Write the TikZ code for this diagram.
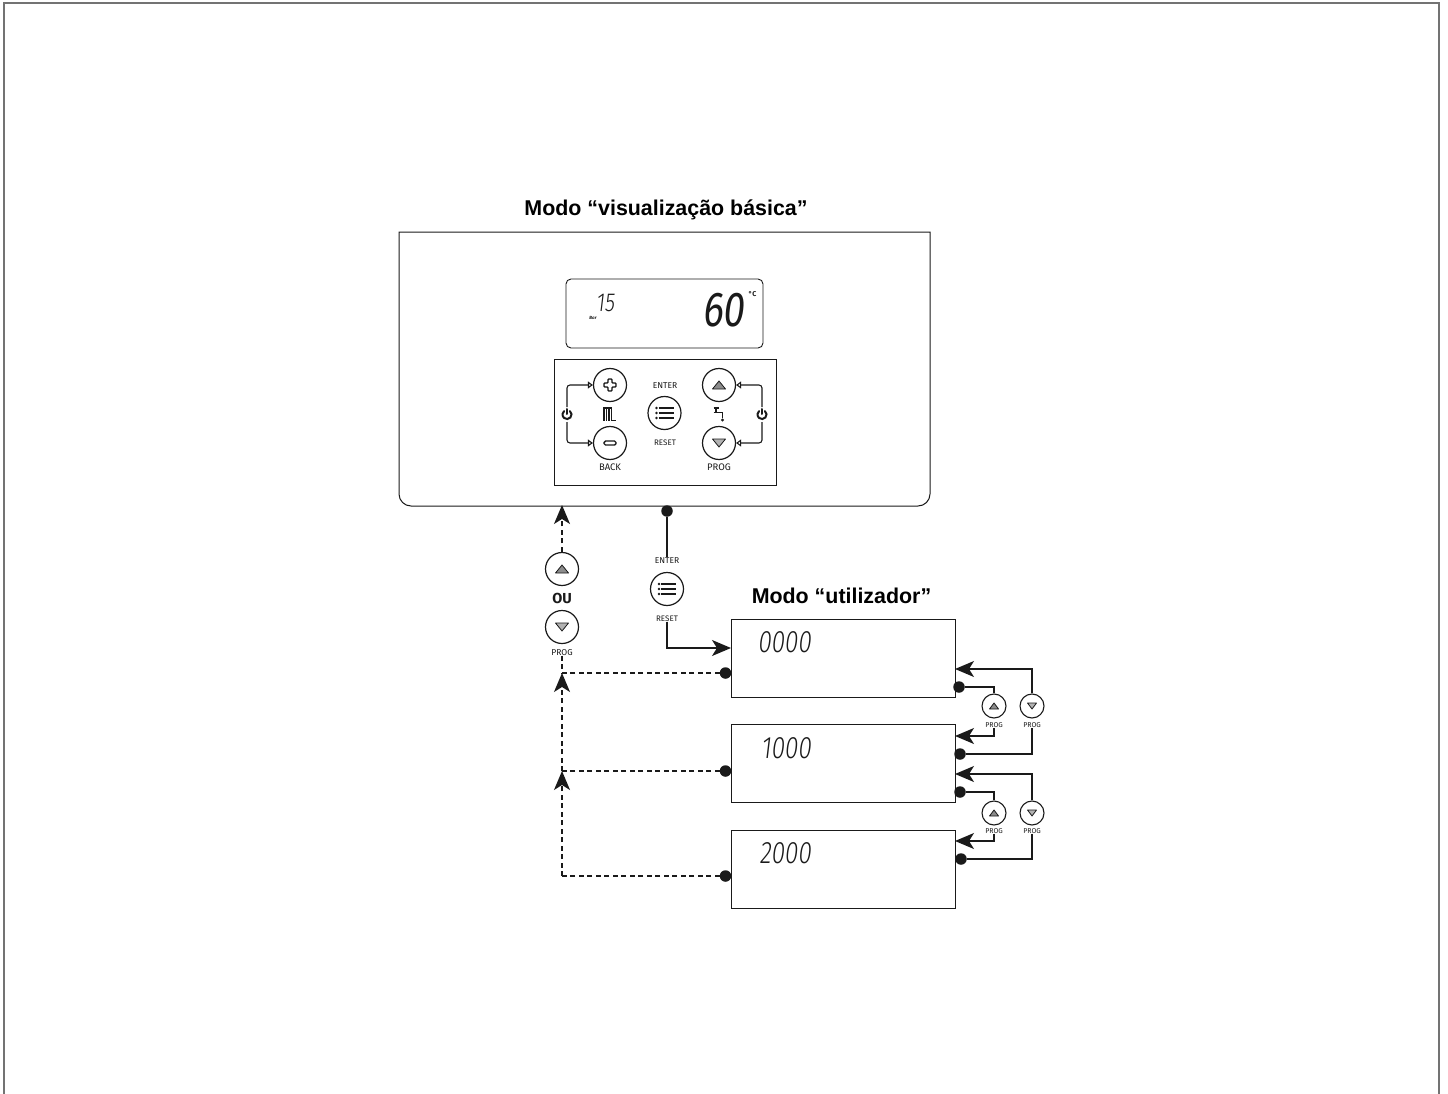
\documentclass[tikz,border=0pt]{standalone}
\usepackage{fontspec}
\usetikzlibrary{arrows.meta,calc}
\setmainfont{Liberation Sans}
\newfontfamily\lblfont{Fira Sans}
\newfontfamily\segfont[FakeSlant=.12,FakeStretch=.78,UprightFont=* Light]{Fira Sans}
\newfontfamily\segbold[FakeSlant=.12,FakeStretch=.78]{Fira Sans}
\definecolor{ink}{HTML}{1A1A1A}
\tikzset{
  x=1pt,y=-1pt,
  line/.style={draw=ink,line width=1.3pt},
  dashline/.style={draw=ink,line width=1.3pt,dash pattern=on 5pt off 3.5pt},
  head/.style={-{Stealth[length=19pt,width=16pt,inset=5pt,fill=ink]}},
  smallhead/.style={-{Triangle[open,length=5pt,width=7pt,fill=white]}},
  panel/.style={draw=ink,line width=1pt,sharp corners},
  screen/.style={panel,minimum width=224pt,minimum height=78pt,inner sep=0pt},
  bigbtn/.style={circle,draw=ink,line width=1.2pt,minimum size=33pt,inner sep=0pt,fill=white},
  smallbtn/.style={circle,draw=ink,line width=1.1pt,minimum size=24pt,inner sep=0pt,fill=white},
  junction/.style={circle,fill=ink,minimum size=11.5pt,inner sep=0pt},
  title/.style={font=\fontsize{21.4}{23}\selectfont\bfseries,inner sep=0pt},
  lbl/.style={font=\fontsize{9.5}{10}\lblfont,text=ink,inner sep=0pt},
  midlbl/.style={font=\fontsize{8.5}{9}\lblfont,text=ink,inner sep=0pt},
  rstlbl/.style={font=\fontsize{8}{9}\lblfont,text=ink,inner sep=0pt},
  tinylbl/.style={font=\fontsize{7}{8}\lblfont,text=ink,inner sep=0pt},
  seg/.style={font=\fontsize{31}{31}\segfont,text=ink,inner sep=0pt},
  tri/.style={draw=ink,fill=black!45,line width=.8pt,line join=round},
  pow/.style={draw=ink,line width=2pt,line cap=round},
}
\newcommand{\btnup}[3]{\draw[tri] ($(#1)+(-#2,#3)$) -- ($(#1)+(0,-#3)$) -- ($(#1)+(#2,#3)$) -- cycle;}
\newcommand{\btndown}[3]{\draw[tri,fill=black!30] ($(#1)+(-#2,-#3)$) -- ($(#1)+(0,#3)$) -- ($(#1)+(#2,-#3)$) -- cycle;}
\newcommand{\menuicon}[2]{\foreach \dy in {-5,0,5}{\draw[ink,line width=#2] ($(#1)+(-6,\dy)$) -- ($(#1)+(9,\dy)$); \fill[ink] ($(#1)+(-8,\dy)$) circle (1.4pt);}}
\newcommand{\powicon}[1]{\draw[pow] ($(#1)+(2.9,-3.4)$) arc[start angle=50,end angle=-230,radius=4.5pt]; \draw[pow] ($(#1)+(0,-5.5)$) -- ($(#1)+(0,-.5)$);}
\begin{document}
\begin{tikzpicture}
\useasboundingbox (0,0) rectangle (1448,1094);
% outer frame
\draw[black!55,line width=2pt] (4,1094) -- (4,3) -- (1439,3) -- (1439,1094);

% titles
\node[title] (t1) at (666,210) {Modo “visualização básica”};
\node[title] (t2) at (841.5,596) {Modo “utilizador”};

% main unit
\draw[panel,line cap=rect] (399,232) -- (930,232) (930,232) [rounded corners=12pt] -- (930,506) -- (399,506) -- (399,232);
\draw[draw=ink,line width=.9pt,rounded corners=5pt] (566,279) rectangle (763,348);
\draw[panel] (554,359) rectangle (776,485);
\node[font=\fontsize{26}{26}\segfont,text=ink,inner sep=0] (n15) at (605,303) {15};
\node[font=\fontsize{4.5}{5}\lblfont\itshape\bfseries,text=ink,inner sep=0] (nbar) at (593,317.5) {Bar};
\node[font=\fontsize{49}{49}\segbold,text=ink,inner sep=0] (n60) at (723,310) {60};
\node[font=\fontsize{7}{7}\lblfont\bfseries,text=ink,inner sep=0] (ndeg) at (752.5,294) {°C};

% keypad
\node[bigbtn] (bplus) at (610,385) {};
\node[bigbtn] (bminus) at (610,443) {};
\node[bigbtn] (bmenu) at (664.5,413) {};
\node[bigbtn] (bup) at (719,385) {};
\node[bigbtn] (bdown) at (719,443) {};
\draw[ink,line width=1.4pt,rounded corners=.8pt] (608,379) -- (612,379) -- (612,383) -- (616,383) -- (616,387) -- (612,387) -- (612,391) -- (608,391) -- (608,387) -- (604,387) -- (604,383) -- (608,383) -- cycle;
\draw[ink,line width=1.4pt,rounded corners=1.5pt] (604,441) rectangle (616,445);
\menuicon{bmenu}{2pt}
\btnup{bup}{6.5}{4}
\btndown{bdown}{6.5}{4}
\node[midlbl] (lenter) at (665,386) {ENTER};
\node[rstlbl] (lreset) at (665,443) {RESET};
\node[lbl] (lback) at (610,467) {BACK};
\node[lbl] (lprog) at (719,467) {PROG};
% power symbols and links
\coordinate (pl) at (567,414.5);
\coordinate (pr) at (762,414.5);
\powicon{pl}
\powicon{pr}
\draw[line,line width=1.1pt,rounded corners=3pt,smallhead] (567,407) |- (bplus.west);
\draw[line,line width=1.1pt,rounded corners=3pt,smallhead] (567,422) |- (bminus.west);
\draw[line,line width=1.1pt,rounded corners=3pt,smallhead] (762,407) |- (bup.east);
\draw[line,line width=1.1pt,rounded corners=3pt,smallhead] (762,422) |- (bdown.east);
% radiator
\foreach \xx in {604,606.5,609,611.5}{\draw[ink,line width=1.6pt] (\xx,408) -- (\xx,421);}
\draw[ink,line width=1.2pt] (603,408) -- (612,408);
\draw[ink,line width=1.6pt] (611,420.5) -- (616,420.5);
% tap
\draw[ink,line width=1.8pt] (713.5,408) -- (719,408) (713.5,412.5) -- (722.5,412.5) -- (722.5,417.5);
\draw[ink,line width=1.2pt] (716,408) -- (716,412);
\fill[ink] (722.5,420) circle (1.7pt);

% mode boxes
\node[screen,anchor=north west] (box1) at (731,619) {};
\node[screen,anchor=north west] (box2) at (731,724) {};
\node[screen,anchor=north west] (box3) at (731,830) {};
\node[seg,anchor=east] (d0) at (811,642) {0000};
\node[seg,anchor=east] (d1) at (811,748) {1000};
\node[seg,anchor=east] (d2) at (811,853) {2000};

% enter connection
\node[junction] (jtop) at (667,511) {};
\node[midlbl] (e2) at (667,560.5) {ENTER};
\node[bigbtn] (bmenu2) at (667,589) {};
\menuicon{bmenu2}{1.5pt}
\node[rstlbl] (r2) at (667,618.5) {RESET};
\draw[line] (jtop) -- (e2.north);
\coordinate (tobox) at (731,648);
\draw[line,head] (r2.south) |- (tobox);

% back path
\node[bigbtn] (bup2) at (562,569) {};
\btnup{bup2}{6.5}{4}
\node[font=\fontsize{14.5}{15}\lblfont\bfseries,text=ink,inner sep=0] (ou) at (562,598) {OU};
\node[bigbtn] (bdown2) at (562,627) {};
\btndown{bdown2}{6.5}{4}
\node[midlbl] (p2) at (562,652.5) {PROG};
\coordinate (unit) at (562,505);
\coordinate (a1) at (562,673);
\coordinate (a2) at (562,771);
\coordinate (a3) at (562,876);
\node[junction] (j1) at (725.5,673) {};
\node[junction] (j2) at (725.5,771) {};
\node[junction] (j3) at (725.5,876) {};
\draw[dashline,head] (bup2.north) -- (unit);
\draw[dashline] (p2.south) -- (a1);
\draw[dashline,head] (a2) -- (a1);
\draw[dashline,head] (a3) -- (a2);
\draw[dashline] (j1) -- (a1);
\draw[dashline] (j2) -- (a2);
\draw[dashline] (j3) -- (a3);

% right side, first group
\node[smallbtn] (u1) at (994,706) {};
\node[smallbtn] (w1) at (1032,706) {};
\btnup{u1}{4.5}{3}
\btndown{w1}{4.5}{3}
\node[tinylbl] (pu1) at (994,725.5) {PROG};
\node[tinylbl] (pw1) at (1032,725.5) {PROG};
\node[junction] (r1) at (959,687) {};
\node[junction] (r2a) at (960,754) {};
\coordinate (t1a) at (955,669);
\coordinate (t1b) at (955,736);
\draw[line] (r1) -| (u1.north);
\draw[line,head] (w1.north) |- (t1a);
\draw[line,head] (pu1.south) |- (t1b);
\draw[line] (pw1.south) |- (r2a);

% right side, second group
\node[smallbtn] (u2) at (994,813) {};
\node[smallbtn] (w2) at (1032,813) {};
\btnup{u2}{4.5}{3}
\btndown{w2}{4.5}{3}
\node[tinylbl] (pu2) at (994,831) {PROG};
\node[tinylbl] (pw2) at (1032,831) {PROG};
\node[junction] (r3) at (960,792) {};
\node[junction] (r4) at (961,859) {};
\coordinate (t2a) at (955,774);
\coordinate (t2b) at (955,841);
\draw[line] (r3) -| (u2.north);
\draw[line,head] (w2.north) |- (t2a);
\draw[line,head] (pu2.south) |- (t2b);
\draw[line] (pw2.south) |- (r4);
\end{tikzpicture}
\end{document}
